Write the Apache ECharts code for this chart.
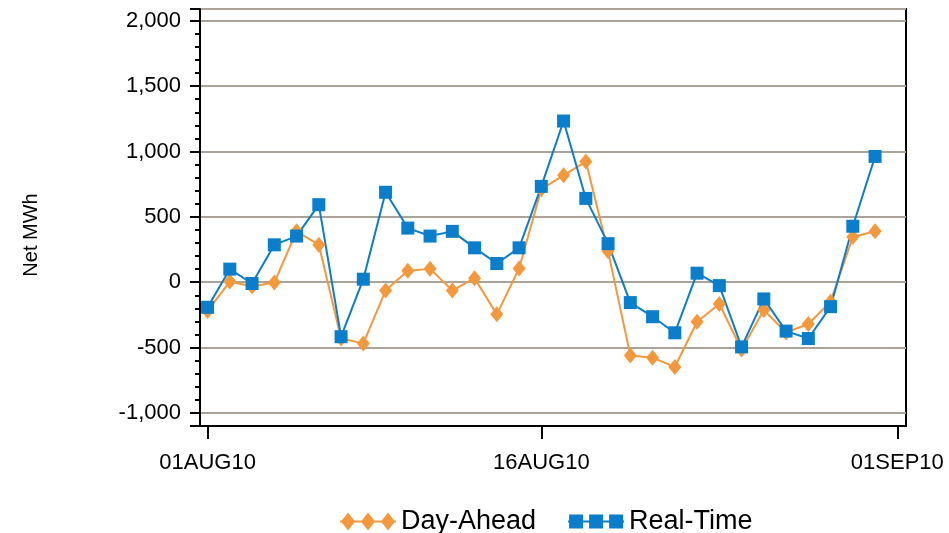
<!DOCTYPE html>
<html>
<head>
<meta charset="utf-8">
<title>Net MWh</title>
<script src="https://cdn.jsdelivr.net/npm/echarts@6/dist/echarts.min.js"></script>
<style>
html,body{margin:0;padding:0;background:#fff;}
#main{width:949px;height:533px;}
</style>
</head>
<body>
<div id="main"></div>
<script>
var days = ['2010-08-01','2010-08-02','2010-08-03','2010-08-04','2010-08-05','2010-08-06','2010-08-07','2010-08-08',
	'2010-08-09','2010-08-10','2010-08-11','2010-08-12','2010-08-13','2010-08-14','2010-08-15','2010-08-16',
	'2010-08-17','2010-08-18','2010-08-19','2010-08-20','2010-08-21','2010-08-22','2010-08-23','2010-08-24',
	'2010-08-25','2010-08-26','2010-08-27','2010-08-28','2010-08-29','2010-08-30','2010-08-31'];
var dayAhead = [-220, 5, -33, -3, 389, 286, -430, -468, -64, 87, 102, -64, 31, -246, 105, 712,
	818, 923, 236, -560, -577, -649, -303, -167, -515, -213, -385, -320, -149, 346, 390];
var realTime = [-192, 100, -10, 286, 353, 593, -417, 23, 688, 414, 353, 389, 263, 143, 263, 733,
	1233, 641, 295, -156, -264, -387, 69, -26, -495, -128, -374, -431, -187, 428, 962];
var xTickDates = ['2010-08-01','2010-08-16','2010-09-01'];
var xTickLabels = ['01AUG10','16AUG10','01SEP10'];
var seriesNames = ['Day-Ahead','Real-Time'];

// x is measured in days from 01AUG10
var DAY = 86400000;
function dayNum(s){
	var p = s.split('-');
	return Math.round((Date.UTC(+p[0], +p[1]-1, +p[2]) - Date.UTC(2010, 7, 1)) / DAY);
}
function pairs(vals){
	var out = [];
	for(var i=0;i<vals.length;i++){
		out.push([dayNum(days[i]), vals[i]]);
	}
	return out;
}
var tickDays = xTickDates.map(dayNum);

var font = 'Liberation Sans, Arial, sans-serif';
var orange = '#f4983d';
var blue = '#0a7dcb';

// legend icons: line with three markers
var diamondIcon = 'path://M0,8L56,8L56,10L0,10Z M1,9L8,0L15,9L8,18Z M21,9L28,0L35,9L28,18Z M41,9L48,0L55,9L48,18Z';
var squareIcon = 'path://M0,8L56,8L56,10L0,10Z M1,2L15,2L15,16L1,16Z M21,2L35,2L35,16L21,16Z M41,2L55,2L55,16L41,16Z';

var myChart = echarts.init(document.getElementById('main'));
var option = {
	animation: false,
	grid: {
		left: 200, right: 43, top: 9, bottom: 107,
		show: true, borderColor: '#000', borderWidth: 2
	},
	xAxis: {
		type: 'value',
		min: -0.34,
		max: tickDays[2] + 0.39,
		axisLine: {onZero: false, lineStyle: {color: '#000', width: 2}},
		axisTick: {show: true, length: 13, customValues: tickDays, lineStyle: {color: '#000', width: 2}},
		axisLabel: {
			customValues: tickDays,
			margin: 26,
			color: '#000',
			fontFamily: font,
			fontSize: 22,
			formatter: function(v){
				var i = tickDays.indexOf(v);
				return i >= 0 ? xTickLabels[i] : '';
			}
		},
		splitLine: {show: false}
	},
	yAxis: {
		type: 'value',
		min: -1100,
		max: 2090,
		splitNumber: 5,
		axisLine: {show: true, onZero: false, lineStyle: {color: '#000', width: 2}},
		axisTick: {show: true, length: 10, lineStyle: {color: '#000', width: 2}},
		minorTick: {show: true, splitNumber: 5, length: 5, lineStyle: {color: '#000', width: 2}},
		axisLabel: {
			margin: 19,
			color: '#000',
			fontFamily: font,
			fontSize: 22,
			showMinLabel: false,
			showMaxLabel: false,
			formatter: function(v){ return v.toLocaleString('en-US'); }
		},
		splitLine: {show: true, lineStyle: {color: '#aba298', width: 2}}
	},
	legend: {
		left: 335,
		top: 503,
		itemWidth: 56,
		itemHeight: 18,
		itemGap: 32,
		itemStyle: {borderWidth: 0},
		textStyle: {color: '#000', fontFamily: font, fontSize: 27},
		data: [
			{name: seriesNames[0], icon: diamondIcon},
			{name: seriesNames[1], icon: squareIcon}
		]
	},
	graphic: [{
		type: 'text',
		x: 31, y: 235,
		rotation: Math.PI/2,
		style: {
			text: 'Net MWh',
			fill: '#000',
			font: '20px ' + font,
			align: 'center',
			verticalAlign: 'middle'
		}
	}],
	series: [
		{
			name: seriesNames[0],
			type: 'line',
			data: pairs(dayAhead),
			symbol: 'diamond',
			symbolSize: [13, 16],
			color: orange,
			lineStyle: {width: 2, color: orange},
			itemStyle: {color: orange}
		},
		{
			name: seriesNames[1],
			type: 'line',
			data: pairs(realTime),
			symbol: 'rect',
			symbolSize: 13,
			color: blue,
			lineStyle: {width: 2, color: blue},
			itemStyle: {color: blue}
		}
	]
};
myChart.setOption(option);
</script>
</body>
</html>
